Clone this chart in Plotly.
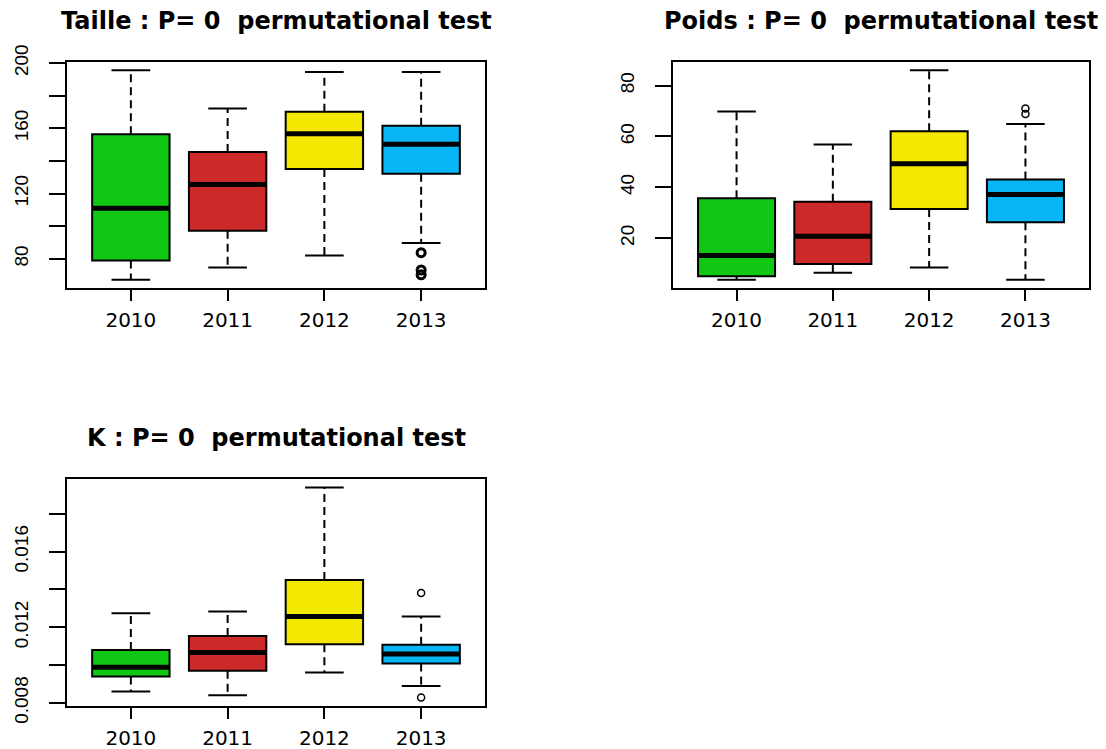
import plotly.graph_objects as go

# ---------------- data ----------------
years = ["2010", "2011", "2012", "2013"]
box_colors = ["#10C814", "#CC2A2A", "#F5E800", "#08B6F5"]

taille_lower = [67.2, 74.7, 82.0, 89.6]
taille_q1 = [79.0, 97.1, 135.1, 132.1]
taille_median = [110.9, 125.6, 156.7, 150.2]
taille_q3 = [156.3, 145.5, 170.1, 161.6]
taille_upper = [195.5, 172.1, 194.5, 194.5]
taille_outliers = [[], [], [], [83.7, 73.1, 70.2]]
taille_ticks = [80, 100, 120, 140, 160, 180, 200]
taille_ticktext = ["80", "", "120", "", "160", "", "200"]

poids_lower = [3.7, 6.4, 8.5, 3.7]
poids_q1 = [5.0, 9.8, 31.5, 26.3]
poids_median = [13.2, 20.8, 49.3, 37.2]
poids_q3 = [35.7, 34.3, 62.1, 43.1]
poids_upper = [69.8, 56.8, 86.0, 64.9]
poids_outliers = [[], [], [], [71.0, 68.8]]
poids_ticks = [20, 40, 60, 80]
poids_ticktext = ["20", "40", "60", "80"]

k_lower = [0.00860, 0.00841, 0.00961, 0.00889]
k_q1 = [0.00940, 0.00970, 0.01110, 0.01009]
k_median = [0.00989, 0.01066, 0.01257, 0.01058]
k_q3 = [0.01080, 0.01154, 0.01450, 0.01108]
k_upper = [0.01274, 0.01283, 0.01940, 0.01257]
k_outliers = [[], [], [], [0.01381, 0.00828]]
k_ticks = [0.008, 0.010, 0.012, 0.014, 0.016, 0.018]
k_ticktext = ["0.008", "", "0.012", "", "0.016", ""]

titles = ["Taille : P= 0  permutational test",
          "Poids : P= 0  permutational test",
          "K : P= 0  permutational test"]

# ---------------- layout geometry ----------------
# page offset from the default body margin of the HTML page
OFF = 8
W, H = 1106 - OFF, 749 - OFF
panels_px = [  # left, right, top, bottom  (page pixels)
    (67, 485, 62, 288),
    (673, 1089, 62, 288),
    (67, 485, 479, 706),
]
title_y_px = [21, 21, 438]


def px_x(v):
    return (v - OFF) / W


def px_y(v):
    return 1 - (v - OFF) / H


fig = go.Figure()

panels = [
    (taille_lower, taille_q1, taille_median, taille_q3, taille_upper, taille_outliers, taille_ticks, taille_ticktext),
    (poids_lower, poids_q1, poids_median, poids_q3, poids_upper, poids_outliers, poids_ticks, poids_ticktext),
    (k_lower, k_q1, k_median, k_q3, k_upper, k_outliers, k_ticks, k_ticktext),
]

marker_styles = [
    dict(symbol="circle-open", size=8, line=dict(width=3, color="black"), color="black"),
    dict(symbol="circle-open", size=7, line=dict(width=1.5, color="black"), color="black"),
    dict(symbol="circle-open", size=7, line=dict(width=1.5, color="black"), color="black"),
]

LW = 2
for p, (lo, q1, md, q3, up, outl, tv, tt) in enumerate(panels):
    n = p + 1
    xa = "x" if n == 1 else f"x{n}"
    ya = "y" if n == 1 else f"y{n}"
    positions = list(range(1, len(years) + 1))
    wx, wy, sx, sy, mx, my = [], [], [], [], [], []
    for i, pos in enumerate(positions):
        wx += [pos, pos, None, pos, pos, None]
        wy += [q3[i], up[i], None, q1[i], lo[i], None]
        sx += [pos - 0.2, pos + 0.2, None, pos - 0.2, pos + 0.2, None]
        sy += [up[i], up[i], None, lo[i], lo[i], None]
        mx += [pos - 0.4, pos + 0.4, None]
        my += [md[i], md[i], None]
    fig.add_trace(go.Scatter(x=wx, y=wy, mode="lines", xaxis=xa, yaxis=ya,
                             line=dict(color="black", width=LW, dash="8px,5px"),
                             hoverinfo="skip"))
    fig.add_trace(go.Scatter(x=sx, y=sy, mode="lines", xaxis=xa, yaxis=ya,
                             line=dict(color="black", width=LW), hoverinfo="skip"))
    for i, pos in enumerate(positions):
        fig.add_trace(go.Box(x=[pos], q1=[q1[i]], median=[md[i]], q3=[q3[i]],
                             lowerfence=[q1[i]], upperfence=[q3[i]],
                             width=0.8, fillcolor=box_colors[i],
                             line=dict(color="black", width=LW),
                             boxpoints=False, whiskerwidth=0,
                             xaxis=xa, yaxis=ya, hoverinfo="skip"))
    fig.add_trace(go.Scatter(x=mx, y=my, mode="lines", xaxis=xa, yaxis=ya,
                             line=dict(color="black", width=5), hoverinfo="skip"))
    ox, oy = [], []
    for i, pos in enumerate(positions):
        for v in outl[i]:
            ox.append(pos)
            oy.append(v)
    if ox:
        fig.add_trace(go.Scatter(x=ox, y=oy, mode="markers", xaxis=xa, yaxis=ya,
                                 marker=marker_styles[p], hoverinfo="skip"))

    # R-style axis ranges (4% extension)
    allv = list(lo) + list(up) + [v for o in outl for v in o]
    vmin, vmax = min(allv), max(allv)
    pad = 0.04 * (vmax - vmin)
    left, right, top, bottom = panels_px[p]
    xkey = "xaxis" if n == 1 else f"xaxis{n}"
    ykey = "yaxis" if n == 1 else f"yaxis{n}"
    common = dict(showline=True, mirror=True, linecolor="black", linewidth=1.5,
                  ticks="outside", tickcolor="black", tickwidth=1.5,
                  showgrid=False, zeroline=False, fixedrange=True, automargin=False)
    fig.update_layout({
        xkey: dict(domain=[px_x(left), px_x(right)], anchor=ya,
                   range=[0.5 - 0.04 * 4, 4.5 + 0.04 * 4],
                   tickvals=positions, ticktext=years, ticklen=11,
                   ticklabelstandoff=2,
                   tickfont=dict(family="DejaVu Sans", size=20, color="black"),
                   **common),
        ykey: dict(domain=[px_y(bottom), px_y(top)], anchor=xa,
                   range=[vmin - pad, vmax + pad],
                   tickvals=tv, ticktext=tt, ticklen=16, tickangle=-90,
                   ticklabelstandoff=14,
                   tickfont=dict(family="Liberation Sans", size=19, color="black"),
                   **common),
    })
    fig.add_annotation(text=titles[p], xref="paper", yref="paper",
                       x=px_x((left + right) / 2), y=px_y(title_y_px[p]),
                       xanchor="center", yanchor="middle", showarrow=False,
                       font=dict(family="DejaVu Sans", size=24, color="black", weight="bold"))

fig.update_layout(width=W, height=H, autosize=False,
                  margin=dict(l=0, r=0, t=0, b=0),
                  paper_bgcolor="white", plot_bgcolor="white",
                  showlegend=False)

fig.write_html("out.html")
